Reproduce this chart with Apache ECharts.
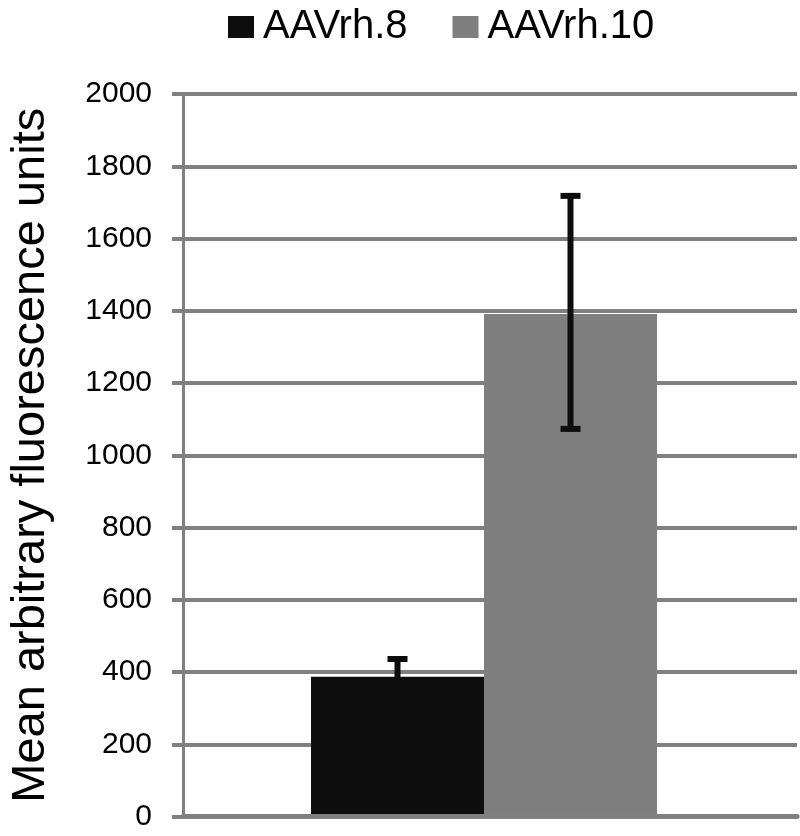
<!DOCTYPE html>
<html>
<head>
<meta charset="utf-8">
<script src="https://cdn.jsdelivr.net/npm/echarts@6/dist/echarts.min.js"></script>
<style>
html,body{margin:0;padding:0;background:#fff;}
#chart{width:800px;height:836px;}
</style>
</head>
<body>
<div id="chart"></div>
<script>
const categories = [''];
const seriesNames = ['AAVrh.8', 'AAVrh.10'];
const meanValues = [387, 1391];
const errorLow = [338, 1073];
const errorHigh = [436, 1718];
const yTicks = [0, 200, 400, 600, 800, 1000, 1200, 1400, 1600, 1800, 2000];
const colors = ['#0d0d0d', '#7f7f7f'];

const BAR_W = 173;
const chart = echarts.init(document.getElementById('chart'));

const barSeries = seriesNames.map((name, i) => ({
  name: name,
  type: 'bar',
  xAxisIndex: 1,
  yAxisIndex: 1,
  data: [meanValues[i]],
  barWidth: BAR_W,
  barGap: '0%',
  itemStyle: { color: colors[i] },
  z: 2
}));

const errData = seriesNames.map((n, i) => [0, i, errorLow[i], errorHigh[i]]);

const errorSeries = {
  type: 'custom',
  name: 'err',
  xAxisIndex: 1,
  yAxisIndex: 1,
  data: errData,
  z: 5,
  silent: true,
  encode: { x: 0, y: [2, 3] },
  renderItem: function (params, api) {
    const cat = api.value(0);
    const idx = api.value(1);
    const lo = api.coord([cat, api.value(2)]);
    const hi = api.coord([cat, api.value(3)]);
    const n = seriesNames.length;
    const offset = (idx - (n - 1) / 2) * BAR_W;
    const x = lo[0] + offset;
    const capHalf = 10;
    const style = { stroke: '#0d0d0d', lineWidth: 6, fill: null };
    return {
      type: 'group',
      children: [
        { type: 'line', shape: { x1: x, y1: lo[1], x2: x, y2: hi[1] }, style: style },
        { type: 'line', shape: { x1: x - capHalf, y1: hi[1], x2: x + capHalf, y2: hi[1] }, style: style },
        { type: 'line', shape: { x1: x - capHalf, y1: lo[1], x2: x + capHalf, y2: lo[1] }, style: style }
      ]
    };
  }
};

chart.setOption({
  animation: false,
  backgroundColor: '#ffffff',
  legend: {
    data: seriesNames,
    left: 223,
    top: 0,
    itemWidth: 26,
    itemHeight: 22,
    itemGap: 45,
    icon: 'rect',
    textStyle: { fontFamily: 'Liberation Sans', fontSize: 40, color: '#000', lineHeight: 44, padding: [0, 0, 0, 4] }
  },
  grid: [
    { left: 177, right: 3, top: 94, bottom: 19.5, containLabel: false },
    { left: 177, right: 9, top: 94, bottom: 19.5, containLabel: false }
  ],
  xAxis: [
    {
      type: 'category',
      gridIndex: 0,
      data: categories,
      axisLine: { show: true, lineStyle: { color: '#808080', width: 5 } },
      axisTick: { show: false },
      axisLabel: { show: false },
      splitLine: { show: false },
      z: 10
    },
    {
      type: 'category',
      gridIndex: 1,
      data: categories,
      show: false
    }
  ],
  yAxis: [
    {
      type: 'value',
      gridIndex: 0,
      min: yTicks[0],
      max: yTicks[yTicks.length - 1],
      interval: 200,
      name: 'Mean arbitrary fluorescence units',
      nameLocation: 'middle',
      nameRotate: 90,
      nameGap: 128,
      nameTextStyle: { fontFamily: 'Liberation Sans', fontSize: 47, color: '#000' },
      axisLine: { show: true, lineStyle: { color: '#808080', width: 3 } },
      axisTick: { show: true, length: 11, lineStyle: { color: '#808080', width: 4 } },
      axisLabel: { fontFamily: 'Liberation Sans', fontSize: 30, color: '#000', margin: 31, formatter: function (v) { return String(v); } },
      splitLine: { show: true, lineStyle: { color: '#808080', width: 4 } }
    },
    {
      type: 'value',
      gridIndex: 1,
      min: yTicks[0],
      max: yTicks[yTicks.length - 1],
      interval: 200,
      show: false,
      splitLine: { show: false }
    }
  ],
  series: barSeries.concat([errorSeries])
});
</script>
</body>
</html>
